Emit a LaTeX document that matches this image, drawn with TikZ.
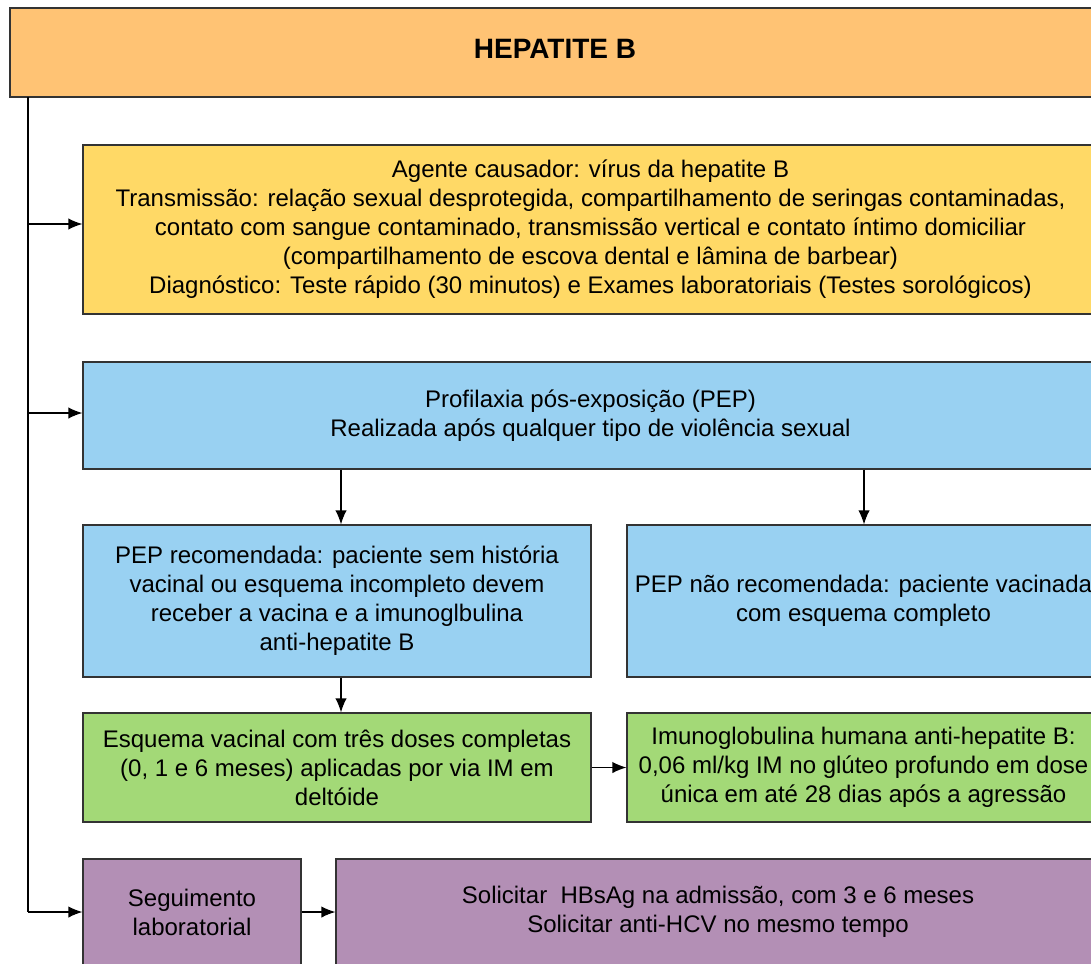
\documentclass[tikz,border=0pt]{standalone}
\usepackage{fontspec}
\setmainfont{Liberation Sans}
\usetikzlibrary{arrows.meta}

\definecolor{bxorange}{HTML}{FFC374}
\definecolor{bxyellow}{HTML}{FFD966}
\definecolor{bxblue}{HTML}{99D1F2}
\definecolor{bxgreen}{HTML}{A3D977}
\definecolor{bxpurple}{HTML}{B38FB5}
\definecolor{bxline}{HTML}{333333}

\tikzset{
  box/.style={draw=bxline, line width=0.9pt, rectangle, inner sep=0pt,
    align=center, font=\fontsize{18}{21.75}\selectfont},
  titlebox/.style={box, fill=bxorange, font=\fontsize{21}{24}\selectfont\bfseries},
  ybox/.style={box, fill=bxyellow},
  bbox/.style={box, fill=bxblue},
  gbox/.style={box, fill=bxgreen},
  pbox/.style={box, fill=bxpurple},
  link/.style={draw=black, line width=0.9pt, -{Latex[length=10.5pt,width=8.5pt]}},
  bus/.style={draw=black, line width=0.9pt}
}

\begin{document}
\begin{tikzpicture}[x=0.75pt, y=-0.75pt]
  \useasboundingbox (0,0) rectangle (1091,963);
  \clip (0,0) rectangle (1091,963);

  % title
  \node[titlebox, minimum width=1090*0.75pt, minimum height=89*0.75pt]
    (top) at (555,52.5) {\raisebox{6pt}{HEPATITE B}};

  % general information
  \node[ybox, minimum width=1015*0.75pt, minimum height=169*0.75pt]
    (info) at (590.5,229.5) {Agente causador: vírus da hepatite B\\
      Transmissão: relação sexual desprotegida, compartilhamento de seringas contaminadas,\\
      contato com sangue contaminado, transmissão vertical e contato íntimo domiciliar\\
      (compartilhamento de escova dental e lâmina de barbear)\\
      Diagnóstico: Teste rápido (30 minutos) e Exames laboratoriais (Testes sorológicos)};

  % post-exposure prophylaxis
  \node[bbox, minimum width=1015*0.75pt, minimum height=107*0.75pt]
    (pep) at (590.5,415.5) {Profilaxia pós-exposição (PEP)\\
      Realizada após qualquer tipo de violência sexual};

  \node[bbox, minimum width=508*0.75pt, minimum height=152*0.75pt]
    (pepyes) at (337,601) {PEP recomendada: paciente sem história\\
      vacinal ou esquema incompleto devem\\
      receber a vacina e a imunoglbulina\\
      anti-hepatite B};

  \node[bbox, minimum width=473*0.75pt, minimum height=152*0.75pt]
    (pepno) at (863.5,601) {PEP não recomendada: paciente vacinada\\
      com esquema completo};

  % vaccination and immunoglobulin
  \node[gbox, minimum width=508*0.75pt, minimum height=109*0.75pt]
    (vac) at (337,767.5) {Esquema vacinal com três doses completas\\
      (0, 1 e 6 meses) aplicadas por via IM em\\
      deltóide};

  \node[gbox, minimum width=473*0.75pt, minimum height=109*0.75pt]
    (igb) at (863.5,767.5) {Imunoglobulina humana anti-hepatite B:\\
      0,06 ml/kg IM no glúteo profundo em dose\\
      única em até 28 dias após a agressão};

  % laboratory follow-up
  \node[pbox, minimum width=218*0.75pt, minimum height=106*0.75pt]
    (lab) at (192,912) {Seguimento\\laboratorial};

  \node[pbox, minimum width=764*0.75pt, minimum height=106*0.75pt]
    (labreq) at (718,912) {Solicitar\ \ HBsAg na admissão, com 3 e 6 meses\\
      Solicitar anti-HCV no mesmo tempo};

  % trunk line on the left
  \coordinate (trunk) at (28,97);
  \draw[bus] (trunk) -- (trunk |- lab.west);
  \draw[link] (trunk |- 0,224) -- (info.west |- 0,224);
  \draw[link] (trunk |- 0,413) -- (pep.west |- 0,413);
  \draw[link] (trunk |- lab.west) -- (lab.west);

  % connectors between boxes
  \draw[link] (pep.south -| 341,0) -- (pepyes.north -| 341,0);
  \draw[link] (pep.south -| 864,0) -- (pepno.north -| 864,0);
  \draw[link] (pepyes.south -| 341,0) -- (vac.north -| 341,0);
  \draw[link] (vac.east) -- (igb.west);
  \draw[link] (lab.east) -- (labreq.west);
\end{tikzpicture}
\end{document}
